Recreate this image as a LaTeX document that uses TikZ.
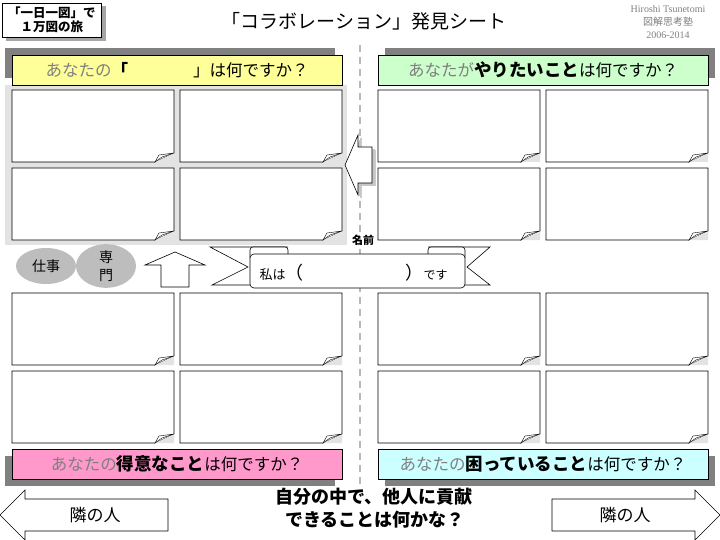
\documentclass[tikz,border=0pt]{standalone}
\usepackage{fontspec}
\setmainfont{Noto Sans CJK JP}
\newfontfamily\latinserif{Liberation Serif}
\usetikzlibrary{shapes.geometric, arrows}

\definecolor{sheetYellow}{HTML}{FFFF99}
\definecolor{sheetGreen}{HTML}{CCFFCC}
\definecolor{sheetPink}{HTML}{FF99CC}
\definecolor{sheetCyan}{HTML}{CCFFFF}
\definecolor{shadowGrey}{HTML}{808080}
\definecolor{panelGrey}{HTML}{E3E3E3}
\definecolor{blobGrey}{HTML}{BDBDBD}
\definecolor{softText}{HTML}{7F7F7F}

% one memo card, top left corner at (#1,#2)
\newcommand{\memocard}[2]{%
	\draw[card] (#1,#2) -- (#1+162,#2) -- (#1+162,#2+63) -- (#1+143,#2+72) -- (#1,#2+72) -- cycle;
	\fill[cornerfold] (#1+162,#2+63) -- (#1+162,#2+72) -- (#1+143,#2+72) -- cycle;
	\draw[curl] (#1+143,#2+72) -- (#1+147,#2+65) -- (#1+162,#2+63) -- (#1+150,#2+67) -- cycle;
}

\begin{document}
\begin{tikzpicture}[x=1pt,y=-1pt]
	\tikzstyle{banner} = [rectangle, minimum width=330pt, minimum height=30pt,
	text centered, draw=black, line width=0.6pt, font=\fontsize{16.5}{18}\selectfont]
	\tikzstyle{bannershadow} = [fill=shadowGrey]
	\tikzstyle{card} = [draw=black, fill=white, line width=0.6pt]
	\tikzstyle{cornerfold} = [fill=panelGrey]
	\tikzstyle{curl} = [draw=black, fill=white, line width=0.4pt]
	\tikzstyle{blob} = [ellipse, fill=blobGrey, minimum width=60pt, minimum height=36pt,
	inner sep=0pt, font=\fontsize{14}{18}\selectfont]
	\tikzstyle{bigarrow} = [draw=black, fill=white, line width=0.6pt]
	\tikzstyle{arrowlabel} = [font=\fontsize{17}{19}\selectfont]
	\tikzstyle{divider} = [draw=gray!55, line width=1.3pt, dash pattern=on 7pt off 5pt]
	\useasboundingbox (0,0) rectangle (720,540);
	% header
	\fill[shadowGrey!70] (6,6) rectangle (106,41);
	\node (dayBox) [rectangle, draw=black, fill=white, minimum width=99pt, minimum height=34pt,
	align=center, font=\bfseries\fontsize{12.5}{14}\selectfont] at (52,20) {「一日一図」で\\１万図の旅};
	\node (title) [font=\fontsize{19}{21}\selectfont] at (364,21) {「コラボレーション」発見シート};
	\node (author) [font=\latinserif\fontsize{10}{11}\selectfont, text=softText] at (668,9) {Hiroshi Tsunetomi};
	\node (school) [font=\fontsize{10}{11}\selectfont, text=softText] at (668,22) {図解思考塾};
	\node (years) [font=\latinserif\fontsize{10}{11}\selectfont, text=softText] at (668,35) {2006-2014};
	% centre line and grey panel
	\draw[divider] (360,45) -- (360,485);
	\fill[panelGrey] (5,85) rectangle (347,245);
	% banners
	\fill[bannershadow] (5,48) rectangle (335,78);
	\fill[bannershadow] (385,48) rectangle (715,78);
	\fill[bannershadow] (5,456) rectangle (335,486);
	\fill[bannershadow] (385,456) rectangle (715,486);
	\node (nameQ) [banner, fill=sheetYellow] at (177,70)
	{{\color{softText}あなたの}{\bfseries 「}\hspace{65pt}」は何ですか？};
	\node (wantQ) [banner, fill=sheetGreen] at (543,70)
	{{\color{softText}あなたが}{\bfseries\fontsize{17.5}{19}\selectfont やりたいこと}は何ですか？};
	\node (goodQ) [banner, fill=sheetPink] at (177,464)
	{{\color{softText}あなたの}{\bfseries\fontsize{17.5}{19}\selectfont 得意なこと}は何ですか？};
	\node (troubleQ) [banner, fill=sheetCyan] at (543,464)
	{{\color{softText}あなたの}{\bfseries\fontsize{17.5}{19}\selectfont 困っていること}は何ですか？};
	% memo cards
	\foreach \cx in {12,180,378,546}
	\foreach \cy in {90,168,293,371}
	\memocard{\cx}{\cy}
	% arrow into the panel
	\fill[gray!45] (348,168) -- (361,138) -- (361,150) -- (375,150) -- (375,186) -- (361,186) -- (361,198) -- cycle;
	\draw[bigarrow] (345,165) -- (358,135) -- (358,147) -- (372,147) -- (372,183) -- (358,183) -- (358,195) -- cycle;
	% skills
	\node (work) [blob] at (46,266) {仕事};
	\node (specialty) [blob, align=center] at (106,266) {専\\門};
	\draw[bigarrow] (175,252) -- (205,265) -- (189,265) -- (189,287) -- (161,287) -- (161,265) -- (145,265) -- cycle;
	% name ribbon
	\draw[bigarrow] (288,247) -- (210,247) -- (248,267) -- (212,285) -- (252,285);
	\draw[bigarrow] (428,247) -- (490,247) -- (467,267) -- (490,285) -- (462,285);
	\draw[bigarrow, rounded corners=3pt] (250,258) -- (250,247) -- (288,247) -- (288,258);
	\draw[bigarrow, rounded corners=3pt] (428,258) -- (428,247) -- (465,247) -- (465,258);
	\draw[bigarrow, rounded corners=4pt] (250,254) rectangle (465,288);
	\node (nameTag) [font=\bfseries\fontsize{11}{12}\selectfont] at (363,240) {名前};
	\node (iAm) [anchor=west, font=\fontsize{13}{14}\selectfont] at (256,273) {私は{\fontsize{18}{19}\selectfont （}};
	\node (desu) [anchor=west, font=\fontsize{12}{14}\selectfont] at (402,273) {{\fontsize{18}{19}\selectfont ）}です};
	% neighbours
	\draw[bigarrow] (0,515) -- (25,490) -- (25,499) -- (168,499) -- (168,531) -- (25,531) -- (25,540) -- cycle;
	\draw[bigarrow] (720,515) -- (695,490) -- (695,499) -- (552,499) -- (552,531) -- (695,531) -- (695,540) -- cycle;
	\node (leftNeighbour) [arrowlabel] at (95,515) {隣の人};
	\node (rightNeighbour) [arrowlabel] at (625,515) {隣の人};
	\node (contribute) [font=\bfseries\fontsize{18}{20}\selectfont] at (374,497) {自分の中で、他人に貢献};
	\node (whatCan) [font=\bfseries\fontsize{18}{20}\selectfont] at (375,520) {できることは何かな？};
\end{tikzpicture}
\end{document}
